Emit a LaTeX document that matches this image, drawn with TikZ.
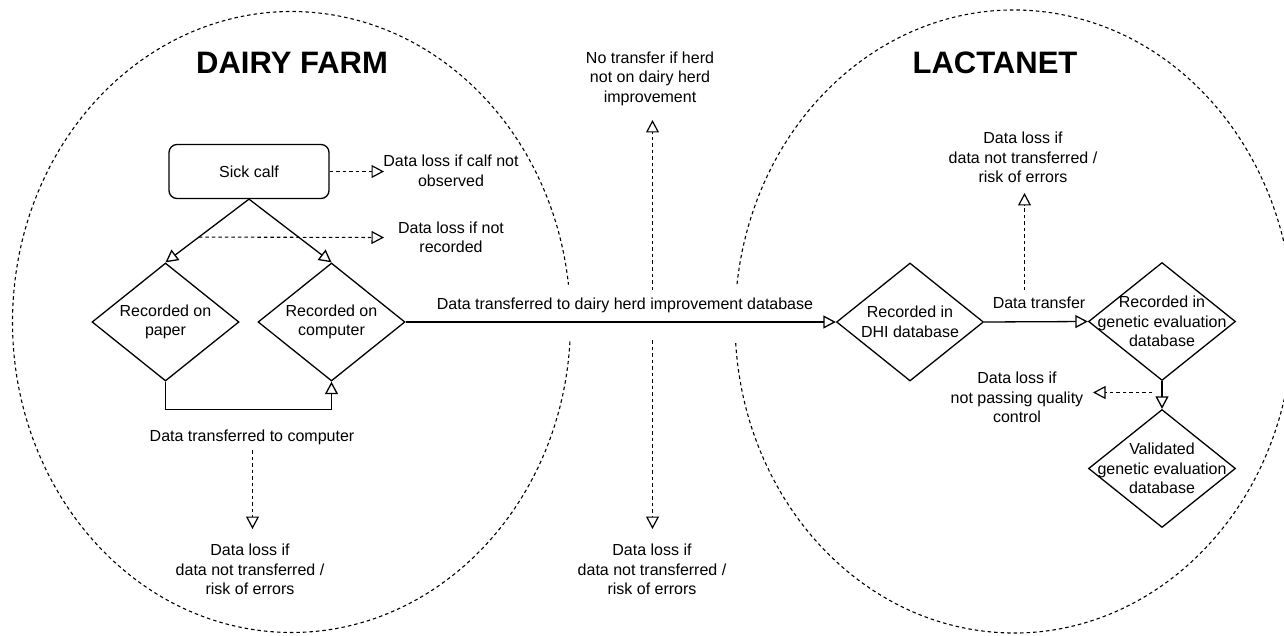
\documentclass[tikz,border=0pt]{standalone}
\usepackage{fontspec}
\setmainfont{Liberation Sans}
\usetikzlibrary{shapes.geometric,arrows.meta,calc}
\begin{document}
\begin{tikzpicture}[x=1pt,y=-1pt,
  every node/.style={font=\fontsize{16}{19.5}\selectfont, align=center, inner sep=0pt},
  lw/.style={line width=1.3pt},
  arr/.style={lw, -{Triangle[open,length=12.5pt,width=13pt]}},
  darr/.style={line width=1.1pt, -{Triangle[open,length=12.5pt,width=13pt,line width=1.2pt]}, dash pattern=on 3.5pt off 3pt},
  dia/.style={diamond, draw, lw, minimum width=147pt, minimum height=118pt, inner sep=0pt},
  region/.style={line width=1.1pt, dash pattern=on 3.5pt off 3pt},
  ttl/.style={font=\fontsize{31}{36}\selectfont\bfseries},
]
\useasboundingbox (0,0) rectangle (1284,636);

% regions
\draw[region] ([shift={(3.6:279 and 310.5)}]291.5,322) arc[start angle=3.6,end angle=353.1,x radius=279,y radius=310.5];
\draw[region] ([shift={(186.9:279 and 311.5)}]1014,321.5) arc[start angle=186.9,end angle=536.4,x radius=279,y radius=311.5];

% titles
\node[ttl] (farm) at (292,63) {DAIRY FARM};
\node[ttl] (lact) at (995,63) {LACTANET};

% boxes
\node[draw, lw, rounded corners=8pt, minimum width=160pt, minimum height=54pt] (sick) at (249,171.5) {Sick calf};
\node[dia] (paper) at (165.5,322) {};
\node (lpaper) at (paper) {Recorded on\\paper};
\node[dia] (comp) at (331.5,322) {};
\node (lcomp) at (comp) {Recorded on\\computer};
\node[dia] (dhi) at (910,322) {};
\node (ldhi) at (dhi) {Recorded in\\DHI database};
\node[dia] (gen) at (1162,321.5) {};
\node (lgen) at (gen) {Recorded in\\genetic evaluation\\database};
\node[dia] (val) at (1162,468.5) {};
\node (lval) at (val) {Validated\\genetic evaluation\\database};

% texts
\node (tcalf) at (451,171) {Data loss if calf not\\observed};
\node (trec) at (451,237.5) {Data loss if not\\recorded};
\node (ttocomp) at (252,437) {Data transferred to computer};
\node (tloss1) at (250,569.5) {Data loss if\\data not transferred /\\risk of errors};
\node (tmain) at (625,305) {Data transferred to dairy herd improvement database};
\node (tnotr) at (650,78.5) {No transfer if herd\\not on dairy herd\\improvement};
\node (tloss2) at (652,569.5) {Data loss if\\data not transferred /\\risk of errors};
\node (tdtr) at (1039,303) {Data transfer};
\node (tloss3) at (1023,157.5) {Data loss if\\data not transferred /\\risk of errors};
\node (tqc) at (1017,397.5) {Data loss if\\not passing quality\\control};

% solid connectors
\draw[arr] (sick.south) -- (paper.north);
\draw[arr] (sick.south) -- (comp.north);
\draw[arr] (paper.south) -- ++(0,28) -| (comp.south);
\draw[arr] (comp.east) -- (dhi.west);
\draw[arr] (dhi.east) -- (gen.west);
\draw[arr] (gen.south) -- (val.north);

% dashed connectors
\coordinate (c1) at (384,171.5);
\draw[darr] (sick.east) -- (c1);
\coordinate (c2s) at ($(sick.south)!0.6!(paper.north)$);
\coordinate (c2e) at (384,237.5);
\draw[darr] (c2s) -- (c2e);
\coordinate (c3s) at (252.5,450);
\coordinate (c3e) at (252.5,529);
\draw[darr] (c3s) -- (c3e);
\coordinate (c4s) at (652.5,290);
\coordinate (c4e) at (652.5,120);
\draw[darr] (c4s) -- (c4e);
\coordinate (c5s) at (652.5,340);
\coordinate (c5e) at (652.5,529);
\draw[darr] (c5s) -- (c5e);
\coordinate (c6s) at (1024.5,290);
\coordinate (c6e) at (1024.5,193);
\draw[darr] (c6s) -- (c6e);
\coordinate (c7s) at (1152,392.5);
\coordinate (c7e) at (1093,392.5);
\draw[darr] (c7s) -- (c7e);
\end{tikzpicture}
\end{document}
